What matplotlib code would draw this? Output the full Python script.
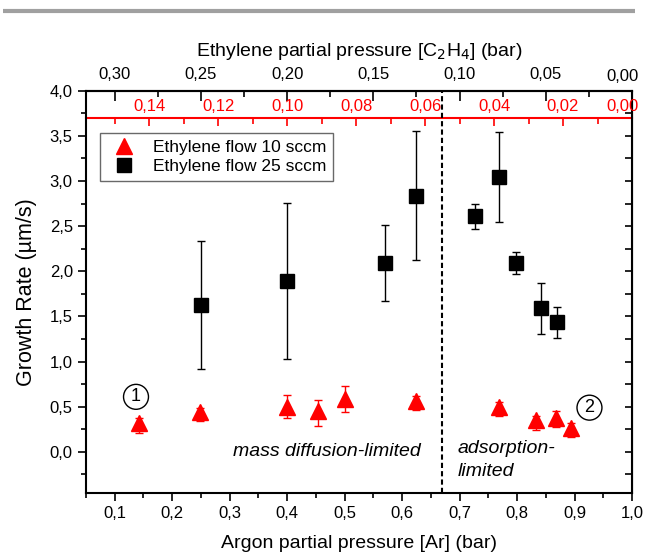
import matplotlib
matplotlib.use("Agg")
import matplotlib.pyplot as plt
from matplotlib.ticker import MultipleLocator, FuncFormatter, FixedLocator
from matplotlib.lines import Line2D

plt.rcParams['font.family'] = ['Liberation Sans', 'DejaVu Sans']

# ---- data ----
ar_25 = [0.25, 0.40, 0.57, 0.624, 0.727, 0.768, 0.799, 0.841, 0.869]
gr_25 = [1.63, 1.89, 2.09, 2.83, 2.61, 3.04, 2.09, 1.59, 1.44]
gr_25_lo = [0.92, 1.03, 1.67, 2.12, 2.47, 2.55, 1.97, 1.31, 1.26]
gr_25_hi = [2.34, 2.76, 2.51, 3.55, 2.74, 3.54, 2.21, 1.87, 1.61]

ar_10 = [0.143, 0.248, 0.40, 0.454, 0.50, 0.624, 0.768, 0.833, 0.868, 0.893]
gr_10 = [0.32, 0.44, 0.50, 0.45, 0.59, 0.56, 0.50, 0.35, 0.37, 0.27]
gr_10_lo = [0.21, 0.34, 0.375, 0.29, 0.44, 0.46, 0.40, 0.245, 0.275, 0.16]
gr_10_hi = [0.37, 0.49, 0.625, 0.58, 0.725, 0.62, 0.55, 0.40, 0.45, 0.32]

x_ticks_bottom = [0.1, 0.2, 0.3, 0.4, 0.5, 0.6, 0.7, 0.8, 0.9, 1.0]
top_ticks = [0.30, 0.25, 0.20, 0.15, 0.10, 0.05, 0.00]
red_ticks = [0.14, 0.12, 0.10, 0.08, 0.06, 0.04, 0.02, 0.00]
boundary_ar = 0.67
label_10 = 'Ethylene flow 10 sccm'
label_25 = 'Ethylene flow 25 sccm'

comma = FuncFormatter(lambda v, p: f"{v:.1f}".replace('.', ','))

fig = plt.figure(figsize=(6.5, 5.6), dpi=100)
ax = fig.add_axes([86/650, 67/560, 546/650, 402.3/560])

# grey bar at top of figure
fig.add_artist(Line2D([3/650, 635/650], [1-11/560, 1-11/560], color='#a0a0a0', lw=3.0,
                      transform=fig.transFigure, solid_capstyle='butt'))

xmin, xmax = 0.05, 1.0
ymin, ymax = -0.455, 4.0

yerr10 = [[g - l for g, l in zip(gr_10, gr_10_lo)], [h - g for g, h in zip(gr_10, gr_10_hi)]]
ax.errorbar(ar_10, gr_10, yerr=yerr10, fmt='^', color='red', ms=11, ecolor='red',
            elinewidth=1, capsize=3, capthick=1, zorder=3)
yerr25 = [[g - l for g, l in zip(gr_25, gr_25_lo)], [h - g for g, h in zip(gr_25, gr_25_hi)]]
ax.errorbar(ar_25, gr_25, yerr=yerr25, fmt='s', color='black', ms=9.5, ecolor='black',
            elinewidth=1, capsize=3, capthick=1, zorder=3)

ax.axvline(boundary_ar, color='black', ls=(0, (2.5, 1.5)), lw=1.5, zorder=2)

ax.set_xlim(xmin, xmax)
ax.set_ylim(ymin, ymax)
ax.xaxis.set_minor_locator(MultipleLocator(0.05))
ax.yaxis.set_major_locator(MultipleLocator(0.5))
ax.yaxis.set_minor_locator(MultipleLocator(0.25))
ax.set_xticks(x_ticks_bottom)
ax.xaxis.set_major_formatter(comma)
ax.yaxis.set_major_formatter(comma)
ax.tick_params(axis='both', which='major', direction='out', length=6, width=1.2, labelsize=12)
ax.tick_params(axis='both', which='minor', direction='out', length=3.5, width=1.2)
for s in ax.spines.values():
    s.set_linewidth(1.5)
ax.set_xlabel('Argon partial pressure [Ar] (bar)', fontsize=14, labelpad=10)
ax.set_ylabel('Growth Rate (µm/s)', fontsize=15.5, labelpad=9)

# right side ticks inward
ax2r = ax.secondary_yaxis('right')
ax2r.yaxis.set_major_locator(MultipleLocator(0.5))
ax2r.yaxis.set_minor_locator(MultipleLocator(0.25))
ax2r.tick_params(which='both', direction='in', length=5, width=1.2, labelright=False)
ax.tick_params(axis='y', which='both', right=False)

# top black axis: ethylene partial pressure 25 sccm
top = ax.secondary_xaxis('top', functions=(lambda a: (1 - a) / 3, lambda e: 1 - 3 * e))
top.set_xticks(top_ticks[:-1], [f"{t:.2f}".replace('.', ',') for t in top_ticks[:-1]])
top.xaxis.set_minor_locator(FixedLocator([0.0] + [t + 0.025 for t in top_ticks if t < 0.3]))
top.tick_params(which='major', direction='in', length=7, width=1.2, labelsize=12, pad=6)
top.tick_params(which='minor', direction='in', length=4, width=1.2)
top.spines['top'].set_linewidth(1.5)
top.set_xlabel('Ethylene partial pressure [C$_2$H$_4$] (bar)', fontsize=14, labelpad=8)

# red axis inside the plot: ethylene partial pressure 10 sccm
red_pos = (3.7 - ymin) / (ymax - ymin)
red = ax.secondary_xaxis(red_pos, functions=(lambda a: (1 - a) / 6, lambda e: 1 - 6 * e))
red.set_xticks(red_ticks[:-1], [f"{t:.2f}".replace('.', ',') for t in red_ticks[:-1]])
red.xaxis.set_minor_locator(FixedLocator([0.0] + [t + 0.01 for t in red_ticks]))
red.tick_params(which='major', direction='in', length=6, width=1.2, labelsize=12,
                colors='red', pad=3)
red.tick_params(which='minor', direction='in', length=4, width=1.2, colors='red')
for s in red.spines.values():
    s.set_color('red')
    s.set_linewidth(1.5)

# right-edge "0,00" labels, kept inside the canvas
ax.text(1.0 + 7/546, 1.0 + 14/402.3, f"{top_ticks[-1]:.2f}".replace('.', ','),
        transform=ax.transAxes, fontsize=12, ha='right', va='center', color='black')
ax.text(1.0 + 7/546, red_pos + 11/402.3, f"{red_ticks[-1]:.2f}".replace('.', ','),
        transform=ax.transAxes, fontsize=12, ha='right', va='center', color='red')

handles = [Line2D([], [], ls='none', marker='^', color='red', ms=11),
           Line2D([], [], ls='none', marker='s', color='black', ms=9.5)]
leg = ax.legend(handles, [label_10, label_25], loc='upper left',
                bbox_to_anchor=(14/546, (493-133)/402.3), borderaxespad=0,
                fontsize=12.5, frameon=True, fancybox=False, edgecolor='#444444',
                handletextpad=0.65, borderpad=0.4, labelspacing=0.2, handlelength=2.0,
                numpoints=1)
leg.get_frame().set_linewidth(1.0)

ax.text(0.137, 0.61, '1', fontsize=13, ha='center', va='center',
        bbox=dict(boxstyle='circle,pad=0.22', fc='white', ec='black', lw=1.0))
ax.text(0.926, 0.49, '2', fontsize=13, ha='center', va='center',
        bbox=dict(boxstyle='circle,pad=0.22', fc='white', ec='black', lw=1.0))

ax.text(0.306, 0.0, 'mass diffusion-limited', fontsize=14, style='italic', ha='left', va='center')
ax.text(0.697, 0.04, 'adsorption-', fontsize=14, style='italic', ha='left', va='center')
ax.text(0.697, -0.22, 'limited', fontsize=14, style='italic', ha='left', va='center')

fig.savefig('out.png', dpi=100)
